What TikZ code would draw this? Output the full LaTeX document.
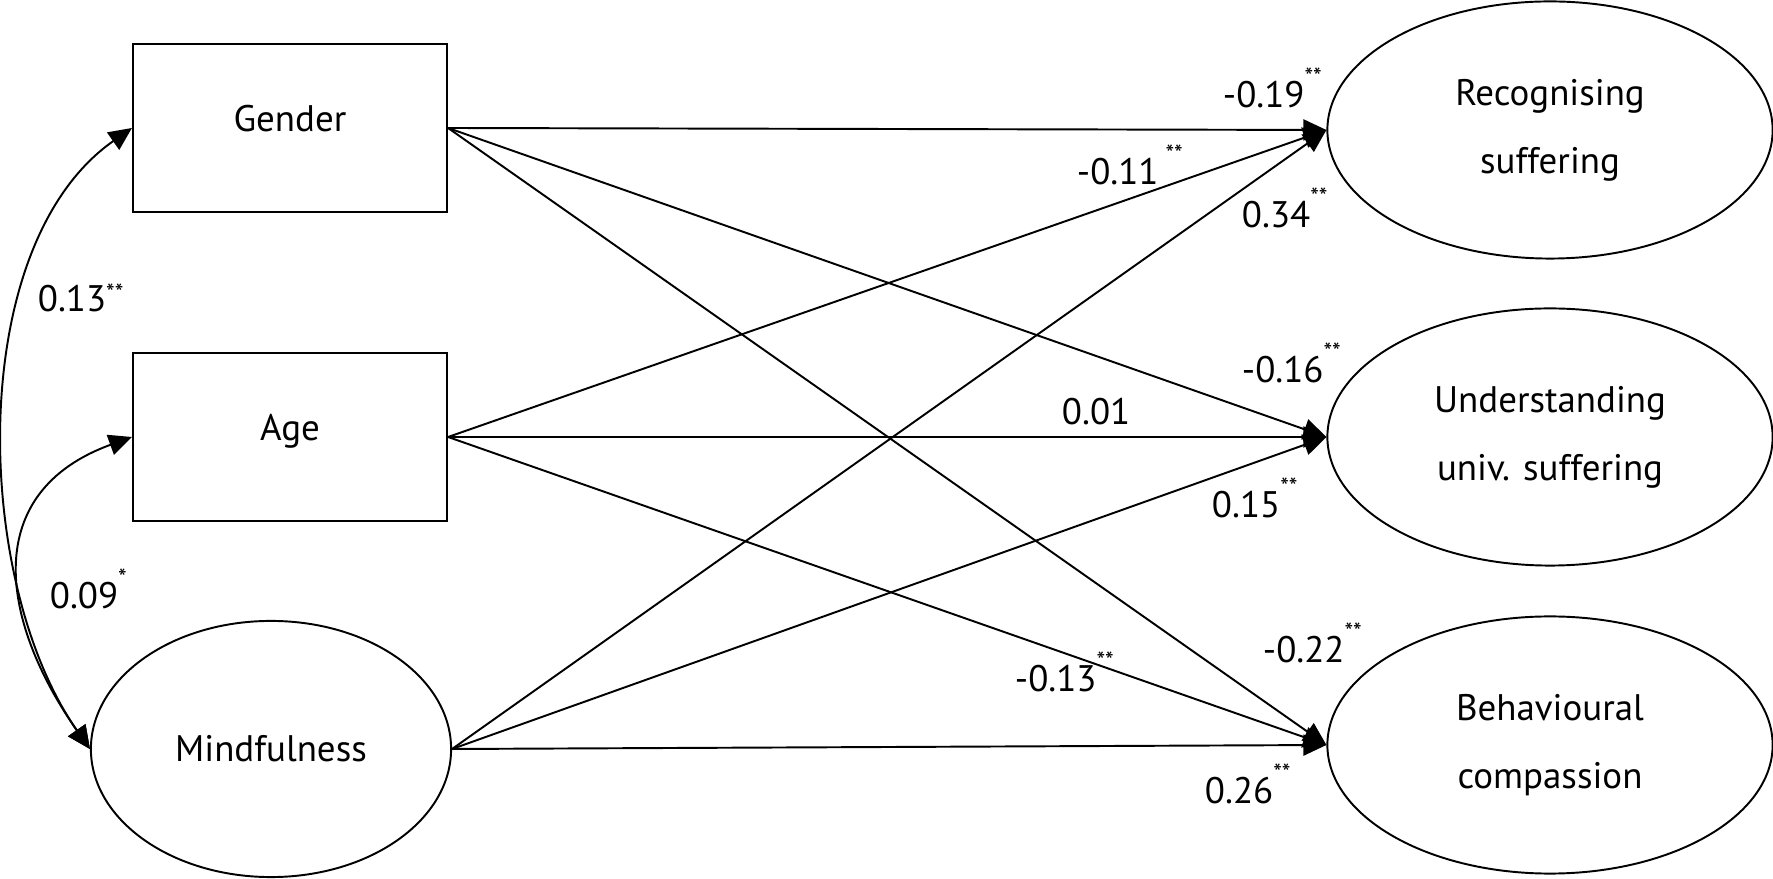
\documentclass[tikz,border=0pt]{standalone}
\usepackage{fontspec}
\setmainfont{PT Sans}
\usetikzlibrary{arrows.meta}
\usetikzlibrary{shapes.geometric}
\newcommand\sig[2][6.5pt]{\raisebox{#1}{\fontsize{7}{8}\selectfont #2}}

\begin{document}
\begin{tikzpicture}[x=0.01cm, y=0.01cm, line width=0.55pt, font=\fontsize{10.5}{19.3}\selectfont]
  \tikzset{box/.style={draw, rectangle, minimum width=3.14cm, minimum height=1.68cm, inner sep=0pt, text height=0.27cm, text depth=0.19cm}}
  \tikzset{latent/.style={draw, ellipse, minimum width=4.45cm, minimum height=2.57cm, inner sep=0pt, align=center}}
  \tikzset{line/.style={draw, ->, >={Triangle[length=0.23cm, width=0.21cm]}}}
  \tikzset{line2/.style={draw, <->, >={Triangle[length=0.23cm, width=0.21cm]}}}
  \tikzset{coef/.style={anchor=base west, inner sep=0pt}}

  \useasboundingbox (0,0) rectangle (1773,879);

  % predictors
  \node[box] (gender) at (290,751) {Gender};
  \node[box] (age) at (290,442) {Age};
  \node[latent, minimum width=3.6cm, minimum height=2.56cm] (mind) at (271,130) {Mindfulness};

  % outcomes
  \node[latent] (rec) at (1550,749) {Recognising\\suffering};
  \node[latent] (und) at (1550,442) {Understanding\\univ. suffering};
  \node[latent] (beh) at (1550,134) {Behavioural\\compassion};

  % paths
  \path[line] (gender.east) -- (rec.west);
  \path[line] (gender.east) -- (und.west);
  \path[line] (gender.east) -- (beh.west);
  \path[line] (age.east) -- (rec.west);
  \path[line] (age.east) -- (und.west);
  \path[line] (age.east) -- (beh.west);
  \path[line] (mind.east) -- (rec.west);
  \path[line] (mind.east) -- (und.west);
  \path[line] (mind.east) -- (beh.west);

  % covariances
  \path[line2] (gender.west) to[out=215, in=125, looseness=0.84] (mind.west);
  \path[line2] (age.west) to[out=200, in=125, looseness=1.3] (mind.west);

  % coefficients
  \node[coef] (c13) at (37,567) {0.13\sig[3pt]{**}};
  \node[coef] (c09) at (49,270) {0.09\sig{*}};
  \node[coef] (c19) at (1222,771) {-0.19\sig{**}};
  \node[coef] (c11) at (1076,694) {-0.11\kern2pt\sig{**}};
  \node[coef] (c34) at (1241,651) {0.34\sig{**}};
  \node[coef] (c16) at (1241,496) {-0.16\sig{**}};
  \node[coef] (c01) at (1061,454) {0.01};
  \node[coef] (c15) at (1211,361) {0.15\sig{**}};
  \node[coef] (c13b) at (1014,187) {-0.13\sig{**}};
  \node[coef] (c22) at (1262,216) {-0.22\sig{**}};
  \node[coef] (c26) at (1204,75) {0.26\sig{**}};

\end{tikzpicture}
\end{document}
